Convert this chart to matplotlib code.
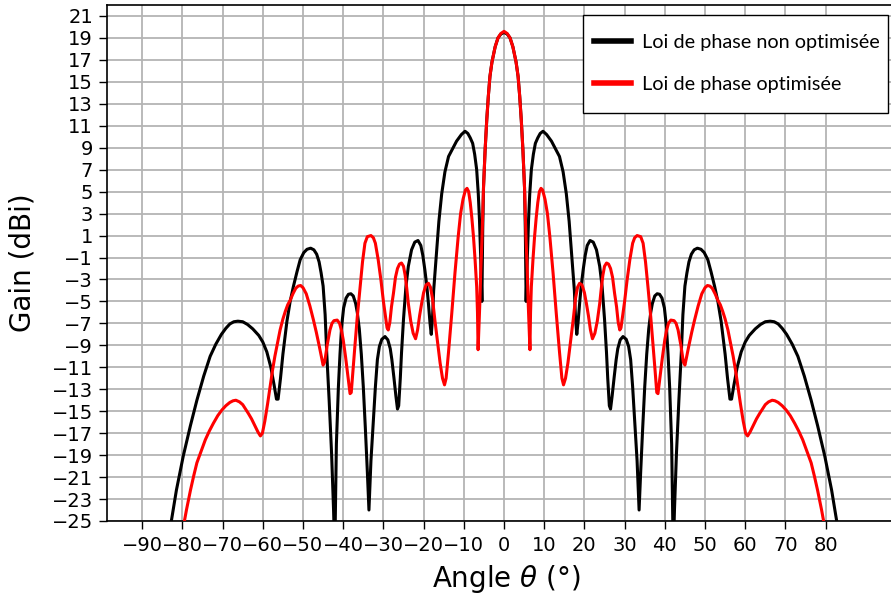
import matplotlib
matplotlib.use("Agg")
import matplotlib.pyplot as plt
from matplotlib.patches import Rectangle

# Data (angle in degrees, gain in dBi)
theta_black_left = [-83.2, -81.5, -79.8, -78.0, -76.4, -74.7, -73.1, -71.7, -70.3, -69.2, -68.2, -67.2, -66.2,
                    -65.0, -63.8, -62.5, -61.0, -60.0, -59.0, -58.0, -57.2, -56.6, -56.2, -55.6, -55.0,
                    -54.0, -53.2, -52.4, -51.5, -50.7, -49.8, -49.0, -48.1, -47.3, -46.6, -46.0, -45.5,
                    -45.0, -44.5, -44.1, -43.5, -42.9, -42.4, -42.1, -41.7, -41.2, -40.8, -40.4, -39.9,
                    -39.3, -38.7, -38.1, -37.5, -36.9, -36.5, -36.0, -35.5, -35.0, -34.5, -34.0, -33.6,
                    -33.1, -32.5, -32.0, -31.5, -31.0, -30.4, -29.6, -28.9, -28.3, -27.9, -27.4, -26.9,
                    -26.5, -26.2, -25.8, -25.5, -25.0, -24.4, -23.8, -23.0, -22.2, -21.4, -20.7, -20.2,
                    -19.7, -19.2, -18.8, -18.4, -18.1, -17.8, -17.5, -17.1, -16.8, -16.2, -15.5, -14.7,
                    -13.8, -12.8, -11.8, -10.6, -9.7, -9.0, -8.4, -7.8, -7.3, -6.8, -6.4, -6.1, -5.8,
                    -5.5, -5.3, -5.1, -4.7, -4.3, -3.9, -3.5, -3.0, -2.2, -1.5, -0.8, 0.0]
gain_black_left = [-26.0, -22.2, -19.1, -16.3, -14.0, -11.8, -10.0, -8.9, -8.0, -7.45, -7.05, -6.85, -6.8,
                   -6.85, -7.1, -7.5, -8.1, -8.7, -9.6, -11.0, -12.6, -13.9, -13.9, -12.0, -9.8,
                   -6.8, -5.0, -3.65, -2.3, -1.2, -0.55, -0.25, -0.15, -0.3, -0.7, -1.4, -2.4,
                   -3.6, -6.2, -9.7, -14.0, -18.8, -24.0, -28.0, -18.0, -12.8, -9.8, -7.3, -5.6,
                   -4.7, -4.35, -4.3, -4.5, -5.2, -6.0, -7.5, -9.8, -12.8, -16.5, -20.5, -24.0,
                   -19.5, -15.8, -12.8, -10.3, -9.1, -8.45, -8.2, -8.5, -9.3, -10.3, -11.9, -13.6,
                   -14.8, -14.5, -12.0, -9.7, -6.6, -3.65, -1.8, -0.3, 0.4, 0.55, 0.1, -0.8,
                   -2.1, -3.6, -5.2, -7.0, -8.0, -6.6, -4.0, -2.0, -0.6, 2.3, 4.8, 6.8,
                   8.2, 8.9, 9.6, 10.2, 10.5, 10.3, 9.9, 9.4, 8.4, 7.0, 4.8, 2.4, -1.0,
                   -5.0, 1.5, 5.4, 8.8, 11.5, 13.7, 15.5, 16.8, 18.2, 19.0, 19.35, 19.5]
theta_black_right = [0.8, 1.5, 2.2, 3.0, 3.5, 3.9, 4.3, 4.7, 5.1, 5.3, 5.5, 5.8, 6.1, 6.4, 6.8, 7.3,
                     7.8, 8.4, 9.0, 9.7, 10.6, 11.8, 12.8, 13.8, 14.7, 15.5, 16.2, 16.8, 17.1, 17.5,
                     17.8, 18.1, 18.4, 18.8, 19.2, 19.7, 20.2, 20.7, 21.4, 22.2, 23.0, 23.8, 24.4,
                     25.0, 25.5, 25.8, 26.2, 26.5, 26.9, 27.4, 27.9, 28.3, 28.9, 29.6, 30.4, 31.0,
                     31.5, 32.0, 32.5, 33.1, 33.6, 34.0, 34.5, 35.0, 35.5, 36.0, 36.5, 36.9, 37.5,
                     38.1, 38.7, 39.3, 39.9, 40.4, 40.8, 41.2, 41.7, 42.1, 42.4, 42.9, 43.5, 44.1,
                     44.5, 45.0, 45.5, 46.0, 46.6, 47.3, 48.1, 49.0, 49.8, 50.7, 51.5, 52.4, 53.2,
                     54.0, 55.0, 55.6, 56.2, 56.6, 57.2, 58.0, 59.0, 60.0, 61.0, 62.5, 63.8, 65.0,
                     66.2, 67.2, 68.2, 69.2, 70.3, 71.7, 73.1, 74.7, 76.4, 78.0, 79.8, 81.5, 83.2]
gain_black_right = [19.35, 19.0, 18.2, 16.8, 15.5, 13.7, 11.5, 8.8, 5.4, 1.5, -5.0, -1.0, 2.4, 4.8,
                    7.0, 8.4, 9.4, 9.9, 10.3, 10.5, 10.2, 9.6, 8.9, 8.2, 6.8, 4.8, 2.3, -0.6, -2.0,
                    -4.0, -6.6, -8.0, -7.0, -5.2, -3.6, -2.1, -0.8, 0.1, 0.55, 0.4, -0.3, -1.8,
                    -3.65, -6.6, -9.7, -12.0, -14.5, -14.8, -13.6, -11.9, -10.3, -9.3, -8.5, -8.2,
                    -8.45, -9.1, -10.3, -12.8, -15.8, -19.5, -24.0, -20.5, -16.5, -12.8, -9.8, -7.5,
                    -6.0, -5.2, -4.5, -4.3, -4.35, -4.7, -5.6, -7.3, -9.8, -12.8, -18.0, -28.0,
                    -24.0, -18.8, -14.0, -9.7, -6.2, -3.6, -2.4, -1.4, -0.7, -0.3, -0.15, -0.25,
                    -0.55, -1.2, -2.3, -3.65, -5.0, -6.8, -9.8, -12.0, -13.9, -13.9, -12.6, -11.0,
                    -9.6, -8.7, -8.1, -7.5, -7.1, -6.85, -6.8, -6.85, -7.05, -7.45, -8.0, -8.9, -10.0,
                    -11.8, -14.0, -16.3, -19.1, -22.2, -26.0]

theta_red_left = [-80.0, -79.0, -78.0, -77.2, -76.4, -75.3, -74.3, -73.3, -72.3, -71.2, -70.2, -69.2,
                  -68.2, -67.4, -66.7, -65.8, -65.0, -64.3, -63.6, -62.8, -62.0, -61.2, -60.6, -60.1,
                  -59.5, -58.8, -58.2, -57.6, -57.0, -56.3, -55.7, -55.0, -54.4, -53.8, -53.2, -52.5,
                  -51.8, -51.2, -50.6, -50.0, -49.2, -48.3, -47.4, -46.7, -46.0, -45.4, -45.0, -44.6,
                  -44.0, -43.3, -42.8, -42.3, -41.5, -40.9, -40.4, -40.0, -39.4, -38.7, -38.3, -38.0,
                  -37.6, -37.1, -36.5, -35.8, -35.2, -34.6, -34.0, -33.1, -32.5, -32.0, -31.3, -30.6,
                  -30.0, -29.6, -29.1, -28.8, -28.4, -28.0, -27.5, -27.0, -26.5, -26.0, -25.5, -25.0,
                  -24.6, -24.2, -23.8, -23.2, -22.6, -22.0, -21.5, -21.0, -20.5, -20.0, -19.4, -18.8,
                  -18.3, -17.8, -17.2, -16.6, -15.9, -15.3, -14.8, -14.4, -13.8, -13.0, -12.2, -11.4,
                  -10.8, -10.2, -9.6, -9.2, -8.8, -8.4, -8.0, -7.6, -7.2, -6.8, -6.6, -6.45, -6.2,
                  -6.0, -5.8, -5.5, -5.1, -4.7, -4.3, -3.9, -3.5, -3.0, -2.2, -1.5, -0.8, 0.0]
gain_red_left = [-26.0, -24.0, -22.2, -20.9, -19.7, -18.6, -17.6, -16.8, -16.1, -15.4, -14.9, -14.5,
                 -14.2, -14.05, -14.0, -14.15, -14.4, -14.8, -15.2, -15.7, -16.3, -16.9, -17.25, -17.0,
                 -15.9, -14.3, -12.8, -11.3, -10.0, -8.7, -7.6, -6.6, -5.9, -5.3, -4.9, -4.3,
                 -3.8, -3.6, -3.55, -3.75, -4.3, -5.4, -6.7, -7.8, -9.0, -10.1, -10.8, -10.5,
                 -9.0, -7.6, -7.0, -6.75, -6.7, -7.0, -7.7, -8.5, -10.1, -12.2, -13.4, -13.3,
                 -11.4, -9.1, -6.4, -3.65, -1.4, 0.3, 0.9, 1.0, 0.8, 0.3, -1.2, -3.1,
                 -5.0, -6.1, -7.4, -7.6, -6.9, -5.5, -4.25, -2.8, -2.0, -1.6, -1.5, -1.8,
                 -2.6, -3.8, -5.2, -6.8, -7.9, -8.4, -7.6, -6.3, -5.2, -4.2, -3.5, -3.35,
                 -3.7, -4.7, -6.7, -8.5, -10.6, -12.0, -12.6, -12.0, -9.6, -6.1, -2.4, 0.9,
                 3.0, 4.3, 5.15, 5.3, 5.0, 4.0, 2.6, 0.9, -1.2, -3.65, -6.0, -9.4, -7.0,
                 -5.0, -2.4, 0.5, 5.4, 8.8, 11.5, 13.7, 15.5, 16.8, 18.2, 19.0, 19.4, 19.6]
theta_red_right = [0.8, 1.5, 2.2, 3.0, 3.5, 3.9, 4.3, 4.7, 5.1, 5.5, 5.8, 6.0, 6.2, 6.45, 6.6, 6.8,
                   7.2, 7.6, 8.0, 8.4, 8.8, 9.2, 9.6, 10.2, 10.8, 11.4, 12.2, 13.0, 13.8, 14.4, 14.8,
                   15.3, 15.9, 16.6, 17.2, 17.8, 18.3, 18.8, 19.4, 20.0, 20.5, 21.0, 21.5, 22.0, 22.6,
                   23.2, 23.8, 24.2, 24.6, 25.0, 25.5, 26.0, 26.5, 27.0, 27.5, 28.0, 28.4, 28.8, 29.1,
                   29.6, 30.0, 30.6, 31.3, 32.0, 32.5, 33.1, 34.0, 34.6, 35.2, 35.8, 36.5, 37.1, 37.6,
                   38.0, 38.3, 38.7, 39.4, 40.0, 40.4, 40.9, 41.5, 42.3, 42.8, 43.3, 44.0, 44.6, 45.0,
                   45.4, 46.0, 46.7, 47.4, 48.3, 49.2, 50.0, 50.6, 51.2, 51.8, 52.5, 53.2, 53.8, 54.4,
                   55.0, 55.7, 56.3, 57.0, 57.6, 58.2, 58.8, 59.5, 60.1, 60.6, 61.2, 62.0, 62.8, 63.6,
                   64.3, 65.0, 65.8, 66.7, 67.4, 68.2, 69.2, 70.2, 71.2, 72.3, 73.3, 74.3, 75.3, 76.4,
                   77.2, 78.0, 79.0, 80.0]
gain_red_right = [19.4, 19.0, 18.2, 16.8, 15.5, 13.7, 11.5, 8.8, 5.4, 0.5, -2.4, -5.0, -7.0, -9.4,
                  -6.0, -3.65, -1.2, 0.9, 2.6, 4.0, 5.0, 5.3, 5.15, 4.3, 3.0, 0.9, -2.4, -6.1, -9.6,
                  -12.0, -12.6, -12.0, -10.6, -8.5, -6.7, -4.7, -3.7, -3.35, -3.5, -4.2, -5.2, -6.3,
                  -7.6, -8.4, -7.9, -6.8, -5.2, -3.8, -2.6, -1.8, -1.5, -1.6, -2.0, -2.8, -4.25, -5.5,
                  -6.9, -7.6, -7.4, -6.1, -5.0, -3.1, -1.2, 0.3, 0.8, 1.0, 0.9, 0.3, -1.4, -3.65,
                  -6.4, -9.1, -11.4, -13.3, -13.4, -12.2, -10.1, -8.5, -7.7, -7.0, -6.7, -6.75, -7.0,
                  -7.6, -9.0, -10.5, -10.8, -10.1, -9.0, -7.8, -6.7, -5.4, -4.3, -3.75, -3.55, -3.6,
                  -3.8, -4.3, -4.9, -5.3, -5.9, -6.6, -7.6, -8.7, -10.0, -11.3, -12.8, -14.3, -15.9,
                  -17.0, -17.25, -16.9, -16.3, -15.7, -15.2, -14.8, -14.4, -14.15, -14.0, -14.05,
                  -14.2, -14.5, -14.9, -15.4, -16.1, -16.8, -17.6, -18.6, -19.7, -20.9, -22.2, -24.0,
                  -26.0]

x_ticks = list(range(-90, 90, 10))
y_ticks = list(range(-25, 22, 2))
label_black = "Loi de phase non optimisée"
label_red = "Loi de phase optimisée"

W, H = 891, 595
fig = plt.figure(figsize=(W / 100, H / 100), dpi=100)
x0, x1 = -98.76, 100.0
px_per_deg = 4.02
ax_left = 107 / W
ax_width = (x1 - x0) * px_per_deg / W
ax_bottom = (H - 521) / H
ax_height = (521 - 5) / H
ax = fig.add_axes([ax_left, ax_bottom, ax_width, ax_height])
ax_w_px = ax_width * W
ax_h_px = ax_height * H

ax.plot(theta_black_left + theta_black_right, gain_black_left + gain_black_right,
        color="black", lw=2.2, label=label_black, zorder=3, solid_joinstyle="round")
ax.plot(theta_red_left + theta_red_right, gain_red_left + gain_red_right,
        color="#ff0000", lw=2.2, label=label_red, zorder=4, solid_joinstyle="round")

ax.set_xlim(x0, x1)
ax.set_ylim(-25, 22)
ax.set_xticks(x_ticks)
ax.set_yticks(y_ticks)
ax.grid(True, color="#b4b4b4", lw=1.3)
ax.set_axisbelow(True)
ax.tick_params(labelsize=14, length=6, width=1.0, pad=4)
ax.tick_params(axis="x", pad=5)
for s in ax.spines.values():
    s.set_linewidth(1.2)
ax.set_xlabel(r"Angle $\theta$ (°)", fontsize=20)
ax.set_ylabel("Gain (dBi)", fontsize=20)
ax.xaxis.set_label_coords(0.5, (521 - 563) / ax_h_px)
ax.yaxis.set_label_coords((37 - 107) / ax_w_px, 0.5)

# legend frame drawn as a rectangle, entries drawn by the legend without frame
fig.patches.append(Rectangle((583 / W, 1 - 113 / H), (888 - 583) / W, 98 / H,
                             transform=fig.transFigure, facecolor="white",
                             edgecolor="black", lw=1.0, zorder=5))
leg = fig.legend(*ax.get_legend_handles_labels(), loc="upper left",
                 bbox_to_anchor=(594 / W, 1 - 34 / H), bbox_transform=fig.transFigure,
                 borderaxespad=0, borderpad=0, frameon=False,
                 prop={"family": "Lato", "size": 14.3},
                 handlelength=1.85, handletextpad=0.55, labelspacing=1.27)
leg.set_zorder(6)
for h in leg.get_lines():
    h.set_linewidth(4)

fig.savefig("out.png", dpi=100)
